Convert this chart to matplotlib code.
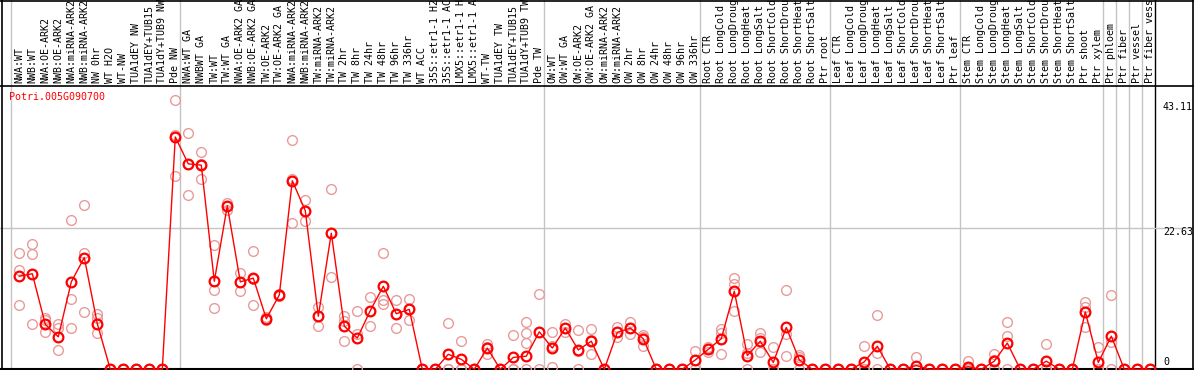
import matplotlib
matplotlib.use("Agg")
import matplotlib.pyplot as plt

# sample labels, grouped by experiment (as far as the header shows them)
group_nw = ["NWA:WT", "NWB:WT", "NWA:OE-ARK2", "NWB:OE-ARK2", "NWA:miRNA-ARK2",
            "NWB:miRNA-ARK2", "NW 0hr", "WT H2O", "WT-NW", "TUA1dEY NW",
            "TUA1dEY+TUB15", "TUA1dY+TUB9 NW", "Pde NW"]
group_tw = ["NWA:WT GA", "NWBWT GA", "TW:WT", "TW:WT GA", "NWA:OE-ARK2 GA",
            "NWB:OE-ARK2 GA", "TW:OE-ARK2", "TW:OE-ARK2 GA", "NWA:miRNA-ARK2",
            "NWB:miRNA-ARK2", "TW:miRNA-ARK2", "TW:miRNA-ARK2", "TW 2hr", "TW 8hr",
            "TW 24hr", "TW 48hr", "TW 96hr", "TW 336hr", "WT ACC",
            "35S::etr1-1 H2", "35S::etr1-1 AC", "LMX5::etr1-1 H",
            "LMX5::etr1-1 A", "WT-TW", "TUA1dEY TW", "TUA1dEY+TUB15",
            "TUA1dY+TUB9 TW", "Pde TW"]
group_ow = ["OW:WT", "OW:WT GA", "OW:OE-ARK2", "OW:OE-ARK2 GA", "OW:miRNA-ARK2",
            "OW:miRNA-ARK2", "OW 2hr", "OW 8hr", "OW 24hr", "OW 48hr", "OW 96hr",
            "OW 336hr"]
stress = ["CTR", "LongCold", "LongDroug", "LongHeat", "LongSalt",
          "ShortCold", "ShortDrou", "ShortHeat", "ShortSalt"]
group_root = ["Root " + s for s in stress] + ["Ptr root"]
group_leaf = ["Leaf " + s for s in stress] + ["Ptr leaf"]
group_stem = ["Stem " + s for s in stress] + ["Ptr shoot", "Ptr xylem"]
group_ptr = ["Ptr phloem", "Ptr fiber", "Ptr vessel", "Ptr fiber vess"]

groups = [group_nw, group_tw, group_ow, group_root, group_leaf, group_stem,
          [group_ptr[0]], [group_ptr[1]], [group_ptr[2]], [group_ptr[3]]]
labels = [lab for g in groups for lab in g]

means = [14.9, 15.3, 7.2, 5.2, 14.0, 17.9, 7.3, 0, 0, 0, 0, 0, 37.2,
         32.9, 32.7, 14.1, 26.2, 14.0, 14.6, 8.1, 11.9, 30.2, 25.4, 8.5, 21.8,
         6.9, 5.0, 9.4, 13.3, 8.9, 9.6, 0, 0, 2.4, 1.6, 0, 3.4, 0, 1.9, 2.1, 6.0,
         3.4, 6.6, 3.1, 4.5, 0, 5.9, 6.6, 4.9, 0, 0, 0, 1.5,
         3.2, 4.9, 12.5, 2.2, 4.5, 1.1, 6.7, 1.5, 0, 0,
         0, 0, 1.2, 3.7, 0, 0, 0.6, 0, 0, 0,
         0.4, 0, 1.3, 4.2, 0, 0, 1.3, 0, 0, 9.2, 1.1,
         5.3, 0, 0, 0]

replicates = [
    [18.7, 15.9, 10.3], [20.1, 18.5, 7.3], [8.2, 7.9, 5.9], [7.2, 6.6, 3.1],
    [23.9, 11.2, 6.6], [26.3, 18.7, 9.2], [8.9, 8.2, 5.8], [0, 0, 0], [0, 0, 0],
    [0, 0, 0], [0, 0, 0], [0, 0, 0], [43.11, 37.6, 30.9],
    [37.8, 32.9, 27.9], [34.8, 32.9, 30.4], [19.9, 12.7, 9.8], [26.7, 26.2, 25.5],
    [15.4, 14.0, 12.5], [18.9, 14.5, 10.3], [8.3, 8.1, 7.9], [12.1, 11.9, 11.7],
    [36.7, 30.4, 23.4], [27.1, 25.3, 23.8], [10.0, 8.5, 7.0], [28.9, 21.8, 14.8],
    [8.6, 7.8, 4.5], [9.3, 5.6, 0], [11.6, 9.4, 6.9], [18.6, 11.1, 10.5],
    [11.1, 8.9, 6.6], [11.2, 9.6, 7.9], [0, 0, 0], [0, 0, 0], [7.4, 0, 0],
    [4.5, 0, 0], [0, 0, 0], [4.0, 3.6, 2.5], [0, 0, 0], [5.5, 0, 0],
    [7.6, 5.8, 4.2, 0], [12.0, 6.0, 0],
    [5.9, 3.8, 0.4], [7.2, 6.6, 6.0], [6.3, 3.0, 0], [6.4, 4.7, 2.4], [0, 0, 0],
    [6.8, 5.9, 5.1], [7.5, 6.6, 5.6], [5.5, 5.2, 3.8], [0, 0, 0], [0, 0, 0],
    [0, 0, 0], [2.9, 1.5, 0],
    [3.6, 3.2, 2.8], [6.4, 5.8, 2.4], [14.7, 13.6, 9.3], [4.1, 2.6, 0],
    [5.8, 5.0, 2.8], [3.6, 0, 0], [12.7, 5.6, 2.1], [2.3, 2.0, 0], [0, 0, 0],
    [0, 0, 0],
    [0, 0, 0], [0, 0, 0], [3.7, 0, 0], [8.7, 2.6, 0], [0, 0, 0], [0, 0, 0],
    [2.0, 0, 0], [0, 0, 0], [0, 0, 0], [0, 0, 0],
    [1.3, 0, 0], [0, 0, 0], [2.5, 1.5, 0], [7.6, 5.3, 0], [0, 0, 0], [0, 0, 0],
    [4.0, 0, 0], [0, 0, 0], [0, 0, 0], [10.8, 10.0, 6.7], [3.5, 0, 0],
    [11.9, 4.3, 0], [0, 0, 0], [0, 0, 0], [0, 0, 0],
]

y_ticks = [0, 22.63, 43.11]
gene = "Potri.005G090700"

W, H = 1194, 370
fig = plt.figure(figsize=(W / 100, H / 100), dpi=100)
ax = fig.add_axes([0, 0, 1, 1])
ax.set_axis_off()

# pixel layout: column i at x = 19.3 + 13 i, value 0 at 0.7 px from bottom
x0, dx = 19.3, 13.0
ppu = 6.244
ax.set_xlim(-x0 / dx, (W - x0) / dx)
ax.set_ylim(-0.7 / ppu, (H - 0.7) / ppu)

mono = "DejaVu Sans Mono"
fs = 7.2
grid = "#c4c4c4"

# group separators
starts = [0]
for g in groups:
    starts.append(starts[-1] + len(g))
for k in starts[:-1]:
    ax.axvline(k - 0.64, color=grid, lw=1, zorder=1)
ax.axvline(starts[-1] - 0.64, color="black", lw=1, zorder=1)
ax.axhline(22.63, color=grid, lw=1, zorder=1)

# frame
header_v = (369.3 - 85.5) / ppu
ax.axhline(header_v, color="black", lw=1.2, zorder=2)
ax.axhline(0, color="black", lw=1.5, zorder=2)
ax.plot([0, 1], [1 - 0.5 / H] * 2, transform=ax.transAxes, color="black", lw=1.2)
ax.plot([1.5 / W] * 2, [0, 1], transform=ax.transAxes, color="black", lw=1.2)
ax.plot([1 - 1.0 / W] * 2, [0, 1], transform=ax.transAxes, color="black", lw=1.2)

# sample labels
for i, lab in enumerate(labels):
    ax.text(i, (369.3 - 83) / ppu, lab, rotation=90, ha="center", va="bottom",
            family=mono, fontsize=fs, color="black")

# replicates
for i, reps in enumerate(replicates):
    ax.plot([i] * len(reps), reps, "o", ms=7, mfc="none", mec="#e99a9a",
            mew=1.0, zorder=3, clip_on=False)

# mean profile
ax.plot(range(len(means)), means, "-o", color="red", lw=1.0, ms=7,
        mfc="none", mec="red", mew=1.6, zorder=4)

fig.text(9 / W, 1 - 97 / H, gene, color="red", family=mono, fontsize=fs,
         ha="left", va="center")

tick_pix = {43.11: 107, 22.63: 232, 0: 362}
for t in y_ticks:
    txt = "0" if t == 0 else f"{t:.2f}"
    fig.text(1163 / W, 1 - tick_pix[t] / H, txt, family=mono, fontsize=fs,
             ha="left", va="center", color="black")

fig.savefig("out.png", dpi=100)
